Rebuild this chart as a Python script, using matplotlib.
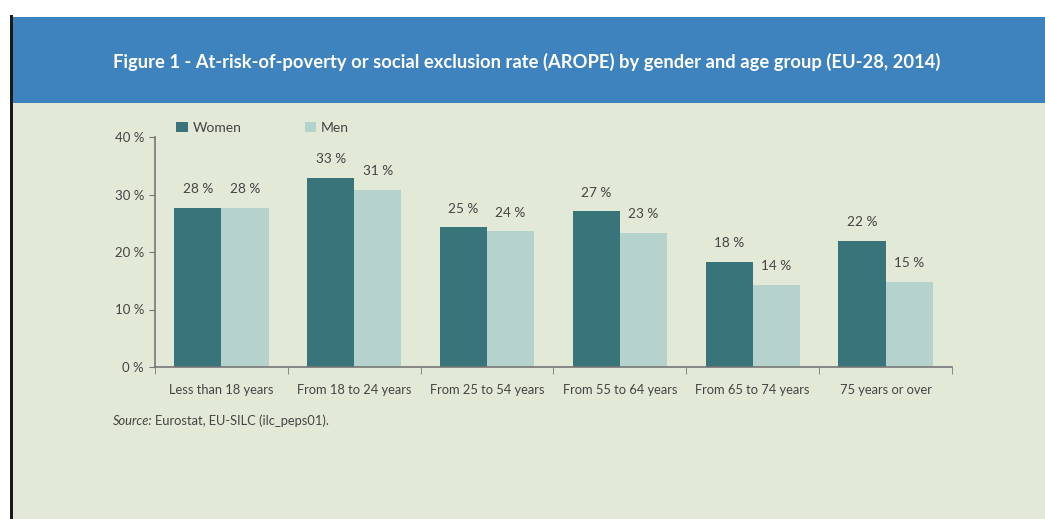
import numpy as np
import matplotlib.pyplot as plt
from matplotlib.patches import Rectangle

plt.rcParams['font.family'] = ['Liberation Sans Narrow', 'Lato', 'DejaVu Sans']

categories = ["Less than 18 years", "From 18 to 24 years", "From 25 to 54 years",
              "From 55 to 64 years", "From 65 to 74 years", "75 years or over"]
women = [27.7, 32.9, 24.3, 27.1, 18.3, 21.9]
men = [27.7, 30.8, 23.6, 23.3, 14.3, 14.8]
women_labels = ["28 %", "33 %", "25 %", "27 %", "18 %", "22 %"]
men_labels = ["28 %", "31 %", "24 %", "23 %", "14 %", "15 %"]

c_women = "#38747a"
c_men = "#b6d2cc"
bg = "#e3e9d7"
grey = "#444444"

W, H = 1045, 519
fig = plt.figure(figsize=(W / 100, H / 100), dpi=100)
fig.patch.set_facecolor("white")

# background panel, header band and the dark left rule
fig.patches.append(Rectangle((13 / W, 0), 1, 1 - 103 / H, transform=fig.transFigure,
                             facecolor=bg, edgecolor="none", zorder=-3))
fig.patches.append(Rectangle((13 / W, 1 - 103 / H), 1, 86 / H, transform=fig.transFigure,
                             facecolor="#3e82be", edgecolor="none", zorder=-3))
fig.patches.append(Rectangle((9.5 / W, 0), 3.5 / W, 1 - 15 / H, transform=fig.transFigure,
                             facecolor="#1a1a1a", edgecolor="none", zorder=-2))

fig.text(527 / W, 1 - 62 / H,
         "Figure 1 - At-risk-of-poverty or social exclusion rate (AROPE) by gender and age group (EU-28, 2014)",
         color="white", fontsize=13.2, fontweight="bold", ha="center", va="center")

ax = fig.add_axes([155 / W, 1 - 367 / H, (952 - 155) / W, (367 - 137) / H])
ax.set_facecolor("none")
ax.set_zorder(2)

x = np.arange(len(categories))
bw = 0.355
ax.bar(x - bw / 2, women, bw, color=c_women, label="Women", zorder=2)
ax.bar(x + bw / 2, men, bw, color=c_men, label="Men", zorder=2)

for i in range(len(categories)):
    ax.text(x[i] - bw / 2, women[i] + 2.2, women_labels[i], ha="center", va="bottom",
            fontsize=9.8, color=grey)
    ax.text(x[i] + bw / 2, men[i] + 2.2, men_labels[i], ha="center", va="bottom",
            fontsize=9.8, color=grey)

ax.set_xlim(-0.5, len(categories) - 0.5)
ax.set_ylim(0, 40)
ax.set_yticks([0, 10, 20, 30, 40])
ax.set_yticklabels(["0 %", "10 %", "20 %", "30 %", "40 %"])
ax.set_xticks(x)
ax.set_xticklabels(categories)
ax.set_xticks(np.arange(len(categories) + 1) - 0.5, minor=True)
ax.tick_params(axis="x", which="major", length=0, pad=12, labelsize=9.3, labelcolor=grey)
ax.tick_params(axis="x", which="minor", length=5, color="#777777", direction="out")
ax.tick_params(axis="y", length=4, color="#777777", pad=4, labelsize=9.5, labelcolor=grey)

for s in ["top", "right"]:
    ax.spines[s].set_visible(False)
for s in ["left", "bottom"]:
    ax.spines[s].set_color("#777777")
    ax.spines[s].set_linewidth(1.2)

leg = ax.legend(loc="lower left", bbox_to_anchor=(0.02, 0.99), ncol=2, frameon=False,
                fontsize=10, handlelength=0.8, handleheight=0.8, handletextpad=0.4,
                columnspacing=4.5, borderaxespad=0)
for t in leg.get_texts():
    t.set_color(grey)

# source line with italic lead-in
src1 = fig.text(113 / W, 1 - 421 / H, "Source:", fontsize=9.3, style="italic",
                color=grey, va="center", ha="left")
fig.canvas.draw()
bb = src1.get_window_extent()
fig.text(bb.x1 / W + 0.002, 1 - 421 / H, "Eurostat, EU-SILC (ilc_peps01).", fontsize=9.3,
         color=grey, va="center", ha="left")

fig.savefig("out.png", dpi=100, facecolor=fig.get_facecolor())
